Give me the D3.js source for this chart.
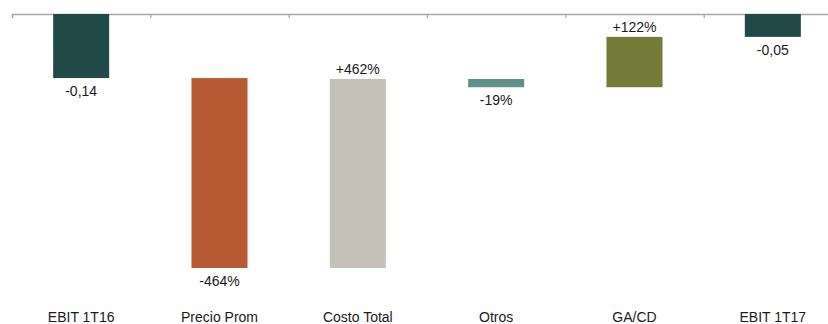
<!DOCTYPE html>
<html>
<head>
<meta charset="utf-8">
<script src="https://cdn.jsdelivr.net/npm/d3@7"></script>
<style>
  body { margin: 0; background: #fff; }
  text { font-family: "Liberation Sans", Arial, sans-serif; font-size: 14px; fill: #1a1a1a; }
</style>
</head>
<body>
<div id="chart"></div>
<script>
// waterfall steps, EBIT in ARS/kg
var categories = ["EBIT 1T16", "Precio Prom", "Costo Total", "Otros", "GA/CD", "EBIT 1T17"];
var deltas = [-0.14, -0.415, 0.413, -0.018, 0.11, -0.05];
var isTotal = [true, false, false, false, false, true];
var labels = ["-0,14", "-464%", "+462%", "-19%", "+122%", "-0,05"];
var colors = ["#224a48", "#b75a34", "#c5c1b9", "#5f8f89", "#747a37", "#224a48"];

var width = 828, height = 324;

var svg = d3.select("#chart").append("svg")
  .attr("width", width)
  .attr("height", height);

// build start / end of every bar
var running = 0;
var rows = categories.map(function(c, i) {
  var start, end;
  if (isTotal[i]) { start = 0; end = deltas[i]; running = end; }
  else { start = running; end = running + deltas[i]; running = end; }
  return { name: c, start: start, end: end, delta: deltas[i], label: labels[i], color: colors[i] };
});

var x = d3.scaleBand()
  .domain(categories)
  .range([12, 842])
  .padding(0);

var y = d3.scaleLinear()
  .domain([0, d3.min(rows, function(d) { return Math.min(d.start, d.end); })])
  .range([14, 268]);

var barW = x.bandwidth() * 0.405;

// axis at the zero line, ticks between categories
var xb = d3.scaleLinear().domain([0, categories.length]).range(x.range());
svg.append("g")
  .attr("transform", "translate(0," + y(0) + ")")
  .call(d3.axisBottom(xb).ticks(categories.length).tickSize(4).tickFormat(""))
  .call(function(g) {
    g.selectAll("path, line").attr("stroke", "#a6a6a6").attr("stroke-width", 1.3);
  });

var bars = svg.selectAll(".bar")
  .data(rows)
  .enter().append("g");

bars.append("rect")
  .attr("x", function(d) { return x(d.name) + (x.bandwidth() - barW) / 2; })
  .attr("y", function(d) { return y(Math.max(d.start, d.end)); })
  .attr("width", barW)
  .attr("height", function(d) { return Math.abs(y(d.end) - y(d.start)); })
  .attr("fill", function(d) { return d.color; });

// value labels: below for drops, above for rises
bars.append("text")
  .attr("x", function(d) { return x(d.name) + x.bandwidth() / 2; })
  .attr("y", function(d) {
    return d.delta < 0 ? y(Math.min(d.start, d.end)) + 18 : y(Math.max(d.start, d.end)) - 5;
  })
  .attr("text-anchor", "middle")
  .text(function(d) { return d.label; });

// category names along the bottom
svg.selectAll(".cat")
  .data(categories)
  .enter().append("text")
  .attr("x", function(d) { return x(d) + x.bandwidth() / 2; })
  .attr("y", 322)
  .attr("text-anchor", "middle")
  .text(function(d) { return d; });
</script>
</body>
</html>
